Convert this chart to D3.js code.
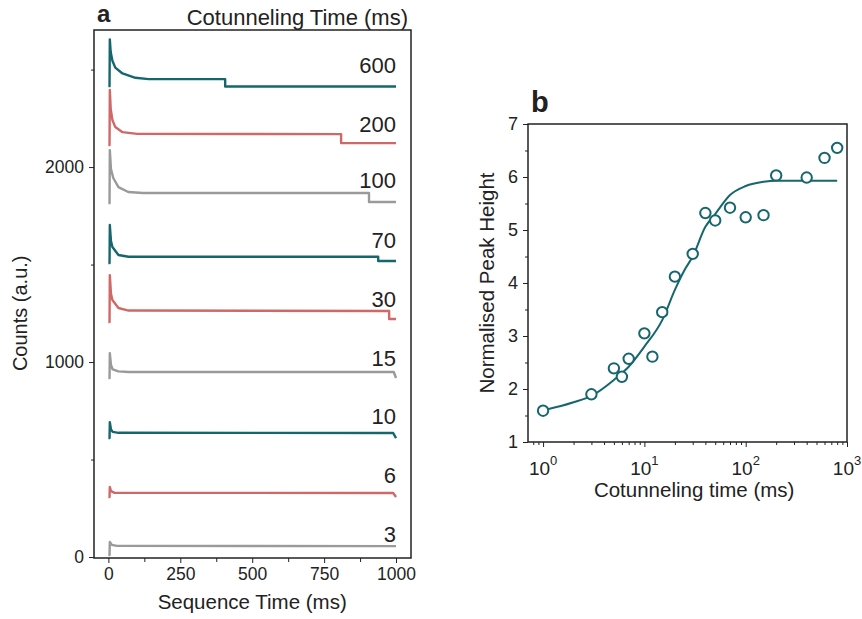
<!DOCTYPE html>
<html>
<head>
<meta charset="UTF-8">
<title>Cotunneling</title>
<script src="https://d3js.org/d3.v7.min.js"></script>
<style>
  body { margin: 0; background: #fff; }
  svg text { font-family: "Liberation Sans", Arial, sans-serif; fill: #222; }
  .axis path, .axis line { stroke: #222; }
  .trace { fill: none; stroke-width: 2.4px; stroke-linejoin: round; }
</style>
</head>
<body>
<svg width="862" height="619"></svg>
<script>
// ---- data: panel a, traces as [time ms, counts]
var cotunnelTimes = ['600', '200', '100', '70', '30', '15', '10', '6', '3'];
var traceColors = ['teal', 'red', 'gray', 'teal', 'red', 'gray', 'teal', 'red', 'gray'];
var trace600 = [[0,2415],[4,2415],[5,2655],[8,2590],[14,2545],[24,2510],[49,2480],[94,2458],[140,2451],[406,2451],[406,2413],[1000,2413]];
var trace200 = [[0,2113],[4,2113],[5,2395],[8,2300],[14,2241],[24,2205],[49,2179],[100,2170],[809,2169],[809,2123],[1000,2123]];
var trace100 = [[0,1815],[4,1815],[5,2087],[9,1990],[17,1944],[35,1897],[69,1872],[120,1867],[906,1867],[906,1821],[1000,1821]];
var trace70  = [[0,1508],[4,1508],[5,1703],[9,1620],[14,1590],[35,1549],[70,1540],[938,1540],[938,1518],[1000,1518]];
var trace30  = [[0,1205],[4,1205],[5,1446],[9,1350],[14,1318],[35,1277],[70,1264],[976,1262],[976,1221],[1000,1221]];
var trace15  = [[0,918],[4,918],[5,1046],[9,985],[15,962],[35,952],[70,949],[992,949],[1000,918]];
var trace10  = [[0,610],[4,610],[5,692],[9,655],[15,642],[35,637],[990,636],[1000,610]];
var trace6   = [[0,308],[4,308],[5,359],[9,338],[20,330],[990,328],[1000,308]];
var trace3   = [[0,10],[4,10],[5,77],[12,62],[30,57],[1000,56]];
var traceLabelCounts = [2482, 2179, 1892, 1585, 1282, 979, 682, 379, 77];

// ---- data: panel b
var cotTime   = [1, 3, 5, 6, 7, 10, 12, 15, 20, 30, 40, 50, 70, 100, 150, 200, 400, 600, 800];
var peakHeight = [1.59, 1.90, 2.39, 2.23, 2.57, 3.05, 2.61, 3.45, 4.12, 4.55, 5.32, 5.18, 5.42, 5.24, 5.28, 6.03, 5.99, 6.36, 6.55];
var fitTime   = [1, 1.5, 2, 3, 5, 7, 10, 15, 20, 25, 30, 40, 50, 70, 100, 150, 200, 400, 800];
var fitHeight = [1.60, 1.68, 1.75, 1.87, 2.17, 2.42, 2.80, 3.30, 3.87, 4.25, 4.50, 5.06, 5.30, 5.66, 5.83, 5.91, 5.93, 5.93, 5.93];

var palette = { teal: '#16666e', red: '#d06868', gray: '#9a9a9a' };
var traces = [trace600, trace200, trace100, trace70, trace30, trace15, trace10, trace6, trace3];

var svg = d3.select('svg');

// ================= panel a
var xA = d3.scaleLinear().domain([-50, 1052]).range([94, 411]);
var yA = d3.scaleLinear().domain([-5, 2703]).range([558, 30]);

var gA = svg.append('g');
gA.append('rect').attr('x', 94).attr('y', 30).attr('width', 317).attr('height', 528)
  .attr('fill', 'none').attr('stroke', '#222').attr('stroke-width', 1.5);

gA.append('g').attr('class', 'axis').attr('transform', 'translate(0,558)')
  .call(d3.axisBottom(xA).tickValues([0, 250, 500, 750, 1000]).tickSize(5).tickPadding(5).tickFormat(d3.format('d')))
  .call(g => g.select('.domain').remove())
  .selectAll('text').style('font-size', '17.5px');
gA.append('g').attr('class', 'axis').attr('transform', 'translate(0,558)')
  .call(d3.axisBottom(xA).tickValues([125, 375, 625, 875]).tickSize(4).tickFormat(''))
  .call(g => g.select('.domain').remove());

gA.append('g').attr('class', 'axis').attr('transform', 'translate(94,0)')
  .call(d3.axisLeft(yA).tickValues([0, 1000, 2000]).tickSize(5).tickPadding(5).tickFormat(d3.format('d')))
  .call(g => g.select('.domain').remove())
  .selectAll('text').style('font-size', '17.5px');
gA.append('g').attr('class', 'axis').attr('transform', 'translate(94,0)')
  .call(d3.axisLeft(yA).tickValues([500, 1500, 2500]).tickSize(3).tickFormat(''))
  .call(g => g.select('.domain').remove());

var lineA = d3.line().x(d => xA(d[0])).y(d => yA(d[1]));
gA.selectAll('.trace').data(traces).enter().append('path')
  .attr('class', 'trace')
  .attr('d', d => lineA(d))
  .attr('stroke', (d, i) => palette[traceColors[i]]);

gA.selectAll('.tlabel').data(cotunnelTimes).enter().append('text')
  .attr('class', 'tlabel')
  .attr('x', xA(1000))
  .attr('y', (d, i) => yA(traceLabelCounts[i]))
  .attr('text-anchor', 'end')
  .style('font-size', '22px')
  .text(d => d);

svg.append('text').attr('x', 408).attr('y', 25).attr('text-anchor', 'end')
  .style('font-size', '22px').text('Cotunneling Time (ms)');
svg.append('text').attr('x', 97).attr('y', 22)
  .style('font-size', '24px').style('font-weight', 'bold').text('a');
svg.append('text').attr('x', xA(500)).attr('y', 609).attr('text-anchor', 'middle')
  .style('font-size', '20.5px').text('Sequence Time (ms)');
svg.append('text').attr('transform', 'translate(27,' + yA(1250) + ') rotate(-90)')
  .attr('text-anchor', 'middle').style('font-size', '20px').text('Counts (a.u.)');

// ================= panel b
var xB = d3.scaleLog().domain([0.71, 1000]).range([528, 847]);
var yB = d3.scaleLinear().domain([1, 7]).range([442, 124]);

var gB = svg.append('g');
gB.append('rect').attr('x', 528).attr('y', 124).attr('width', 319).attr('height', 318)
  .attr('fill', 'none').attr('stroke', '#222').attr('stroke-width', 1.5);

var decades = [1, 10, 100, 1000];
var minorB = xB.ticks().filter(t => decades.indexOf(t) < 0 && t >= 0.71);
gB.append('g').attr('class', 'axis').attr('transform', 'translate(0,442)')
  .call(d3.axisBottom(xB).tickValues(decades).tickSize(5).tickFormat(''))
  .call(g => g.select('.domain').remove());
gB.append('g').attr('class', 'axis').attr('transform', 'translate(0,442)')
  .call(d3.axisBottom(xB).tickValues(minorB).tickSize(3).tickFormat(''))
  .call(g => g.select('.domain').remove());

var decLabel = gB.selectAll('.declabel').data(decades).enter().append('text')
  .attr('class', 'declabel')
  .attr('x', d => xB(d))
  .attr('y', 475)
  .attr('text-anchor', 'middle')
  .style('font-size', '19px');
decLabel.append('tspan').text('10');
decLabel.append('tspan').attr('dy', -10).style('font-size', '13px').text(d => Math.round(Math.log10(d)));

gB.append('g').attr('class', 'axis').attr('transform', 'translate(528,0)')
  .call(d3.axisLeft(yB).tickValues([1, 2, 3, 4, 5, 6, 7]).tickSize(5).tickPadding(5).tickFormat(d3.format('d')))
  .call(g => g.select('.domain').remove())
  .selectAll('text').style('font-size', '18px');
gB.append('g').attr('class', 'axis').attr('transform', 'translate(528,0)')
  .call(d3.axisLeft(yB).tickValues([1.5, 2.5, 3.5, 4.5, 5.5, 6.5]).tickSize(3).tickFormat(''))
  .call(g => g.select('.domain').remove());

var fitLine = d3.line().curve(d3.curveMonotoneX).x((d, i) => xB(fitTime[i])).y(d => yB(d));
gB.append('path').attr('d', fitLine(fitHeight))
  .attr('fill', 'none').attr('stroke', palette.teal).attr('stroke-width', 2);

gB.selectAll('.pt').data(peakHeight).enter().append('circle')
  .attr('class', 'pt')
  .attr('cx', (d, i) => xB(cotTime[i]))
  .attr('cy', d => yB(d))
  .attr('r', 5.2)
  .attr('fill', '#fff').attr('stroke', palette.teal).attr('stroke-width', 2);

svg.append('text').attr('x', 531).attr('y', 112)
  .style('font-size', '29px').style('font-weight', 'bold').text('b');
svg.append('text').attr('x', xB(31)).attr('y', 497).attr('text-anchor', 'middle')
  .style('font-size', '20.5px').text('Cotunneling time (ms)');
svg.append('text').attr('transform', 'translate(494,' + yB(4) + ') rotate(-90)')
  .attr('text-anchor', 'middle').style('font-size', '20.5px').text('Normalised Peak Height');
</script>
</body>
</html>
